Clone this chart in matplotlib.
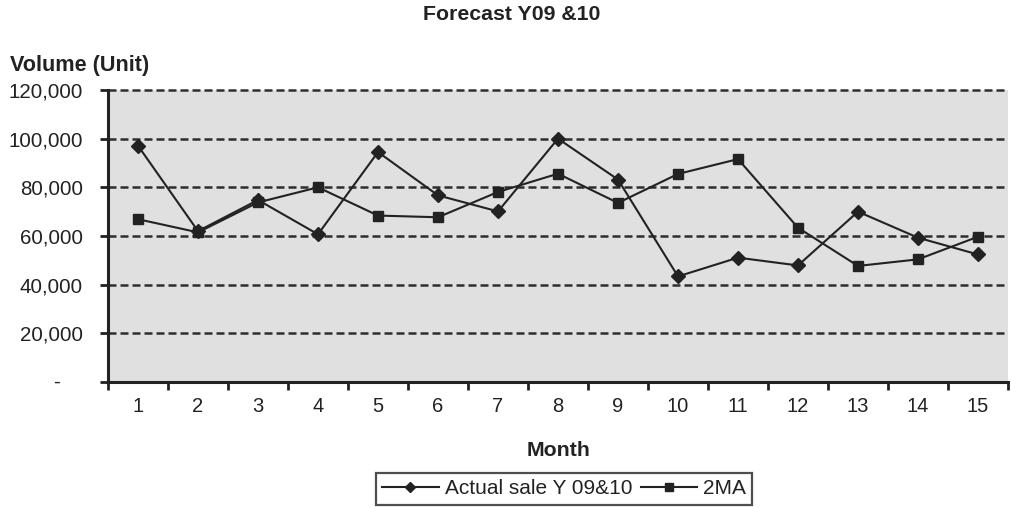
import numpy as np
import matplotlib.pyplot as plt
from matplotlib.ticker import FixedLocator, NullFormatter

# monthly volumes, Y09 & Y10
months = list(range(1, 16))
actual_sale = [97100, 62000, 74800, 60700, 94500, 76700, 70100, 100000,
               83200, 43400, 51100, 47900, 70000, 59300, 52400]
two_ma = [66900, 61500, 73800, 80000, 68400, 67700, 78100, 85600,
          73600, 85500, 91600, 63400, 47700, 50400, 59700]

y_ticks = [0, 20000, 40000, 60000, 80000, 100000, 120000]
y_tick_labels = ['-', '20,000', '40,000', '60,000', '80,000', '100,000', '120,000']

title = 'Forecast Y09 &10'
y_title = 'Volume (Unit)'
x_title = 'Month'
series_names = ['Actual sale Y 09&10', '2MA']

ink = '#222222'
plt.rcParams['font.family'] = ['Liberation Sans', 'DejaVu Sans']

W, H = 1011, 507
fig = plt.figure(figsize=(W / 100, H / 100), dpi=100)
fig.patch.set_facecolor('white')

left, right, top, bottom = 108, 1008, 90, 382
ax = fig.add_axes([left / W, 1 - bottom / H, (right - left) / W, (bottom - top) / H])
ax.set_facecolor('#e0e0e0')

ax.plot(months, actual_sale, color=ink, lw=1.5, marker='D', ms=6.8,
        mfc=ink, mec=ink, label=series_names[0], zorder=4)
ax.plot(months, two_ma, color=ink, lw=1.5, marker='s', ms=7.2,
        mfc=ink, mec=ink, label=series_names[1], zorder=3)

ax.set_xlim(0.5, 15.5)
ax.set_ylim(0, 120000)

# category axis: tick marks between months, labels on the months
ax.xaxis.set_major_locator(FixedLocator(np.arange(0.5, 16, 1)))
ax.xaxis.set_major_formatter(NullFormatter())
ax.xaxis.set_minor_locator(FixedLocator(months))
ax.set_xticklabels([str(m) for m in months], minor=True)
ax.tick_params(axis='x', which='major', direction='out', length=6, width=2, color=ink)
ax.tick_params(axis='x', which='minor', length=0, pad=11, labelsize=14.5, labelcolor=ink)

ax.set_yticks(y_ticks)
ax.set_yticklabels([''] + y_tick_labels[1:])
ax.tick_params(axis='y', direction='out', length=6, width=2, color=ink,
               pad=12, labelsize=14.8, labelcolor=ink)
ax.text(-0.057, 0, y_tick_labels[0], transform=ax.get_yaxis_transform(),
        ha='center', va='center', fontsize=14.8, color=ink)

ax.yaxis.grid(True, color='#2e2e2e', lw=1.8, dashes=(3.2, 1.6))
for gl in ax.get_ygridlines():
    gl.set_clip_on(False)
ax.set_axisbelow(True)

for side in ['top', 'right']:
    ax.spines[side].set_visible(False)
for side in ['left', 'bottom']:
    ax.spines[side].set_linewidth(2.2)
    ax.spines[side].set_color(ink)

fig.text(512 / W, 1 - 15 / H, title, ha='center', va='center',
         fontsize=15.3, fontweight='bold', color=ink)
fig.text(10 / W, 1 - 65 / H, y_title, ha='left', va='center',
         fontsize=15.6, fontweight='bold', color=ink)
fig.text(559 / W, 1 - 450 / H, x_title, ha='center', va='center',
         fontsize=15.3, fontweight='bold', color=ink)

leg = fig.legend(loc='upper left', bbox_to_anchor=(376 / W, 1 - 473 / H),
                 ncol=2, fontsize=15, frameon=True, fancybox=False,
                 handlelength=2.7, handletextpad=0.3, columnspacing=0.4,
                 borderpad=0.3, markerscale=0.75, borderaxespad=0)
leg.get_frame().set_edgecolor(ink)
leg.get_frame().set_linewidth(1.6)
leg.get_frame().set_facecolor('white')
for t in leg.get_texts():
    t.set_color(ink)

fig.savefig('out.png', dpi=100, facecolor=fig.get_facecolor())
